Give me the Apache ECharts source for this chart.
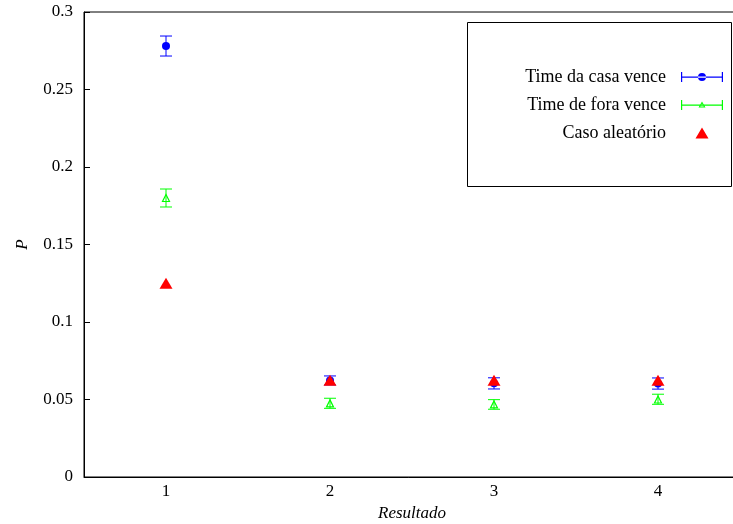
<!DOCTYPE html>
<html>
<head>
<meta charset="utf-8">
<script src="https://cdn.jsdelivr.net/npm/echarts@6/dist/echarts.min.js"></script>
<style>html,body{margin:0;padding:0;background:#fff}#c{width:733px;height:524px}</style>
</head>
<body>
<div id="c"></div>
<script>
var categories = ['1', '2', '3', '4'];
var homeWin = [0.278, 0.0623, 0.0605, 0.0603];
var homeLow = [0.2716, 0.0594, 0.0568, 0.0567];
var homeHigh = [0.2845, 0.0652, 0.0640, 0.0639];
var awayWin = [0.180, 0.0475, 0.0468, 0.0500];
var awayLow = [0.1742, 0.0443, 0.0437, 0.0469];
var awayHigh = [0.1858, 0.0508, 0.0499, 0.0534];
var randomCase = [0.125, 0.0625, 0.0625, 0.0625];
var names = ['Time da casa vence', 'Time de fora vence', 'Caso aleatório'];

var FONT = 'Liberation Serif';
var chart = echarts.init(document.getElementById('c'), null, {renderer: 'canvas'});

function errData(low, high) {
  return categories.map(function (c, i) { return [i, low[i], high[i]]; });
}
function errRender(params, api) {
  var x = api.value(0);
  var lo = api.coord([x, api.value(1)]);
  var hi = api.coord([x, api.value(2)]);
  var w = 6;
  var st = {stroke: api.visual('color'), lineWidth: 1, fill: null};
  return {
    type: 'group',
    children: [
      {type: 'line', shape: {x1: lo[0], y1: lo[1], x2: hi[0], y2: hi[1]}, style: st},
      {type: 'line', shape: {x1: lo[0] - w, y1: lo[1], x2: lo[0] + w, y2: lo[1]}, style: st},
      {type: 'line', shape: {x1: hi[0] - w, y1: hi[1], x2: hi[0] + w, y2: hi[1]}, style: st}
    ]
  };
}

// icons drawn in a 42x12 box; tiny corner marks fix the bounding box
var corners = ' M0,0h0.01v0.01h-0.01z M41.99,11.99h0.01v0.01h-0.01z';
var blueIcon = 'path://M0,5.5h42v1.2h-42z M0,1h1.2v10h-1.2z M40.8,1h1.2v10h-1.2z M17,6a4,4 0 1,0 8,0a4,4 0 1,0 -8,0z' + corners;
var greenIcon = 'path://M0,5.5h42v1.2h-42z M0,1h1.2v10h-1.2z M40.8,1h1.2v10h-1.2z M17.5,8.5l3.5,-6l3.5,6z M19.2,7.6l3.6,0l-1.8,-3.1z' + corners;
var redIcon = 'path://M14.5,11.5l6.5,-11l6.5,11z' + corners;

var option = {
  animation: false,
  backgroundColor: '#fff',
  grid: {left: 84, top: 12, right: -7, bottom: 47, show: true, borderColor: '#000', borderWidth: 1,
    backgroundColor: 'transparent', outerBoundsMode: 'none', containLabel: false},
  xAxis: {
    type: 'category',
    data: categories,
    boundaryGap: true,
    name: 'Resultado',
    nameLocation: 'middle',
    nameGap: 28,
    nameTextStyle: {fontFamily: FONT, fontStyle: 'italic', fontSize: 17, color: '#000'},
    axisLine: {lineStyle: {color: '#000', width: 1}},
    axisTick: {inside: true, alignWithLabel: true, length: 6, lineStyle: {color: '#000'}},
    axisLabel: {fontFamily: FONT, fontSize: 17, color: '#000', margin: 6},
    splitLine: {show: false}
  },
  yAxis: {
    type: 'value',
    min: 0, max: 0.3, interval: 0.05,
    name: 'P',
    nameLocation: 'middle',
    nameGap: 53,
    nameTextStyle: {fontFamily: FONT, fontStyle: 'italic', fontSize: 17, color: '#000'},
    axisLine: {show: true, lineStyle: {color: '#000', width: 1}},
    axisTick: {show: true, inside: true, length: 6, lineStyle: {color: '#000'}},
    axisLabel: {fontFamily: FONT, fontSize: 17, color: '#000', margin: 11,
      formatter: function (v) { return String(+v.toFixed(2)); }},
    splitLine: {show: false}
  },
  legend: {
    orient: 'vertical',
    right: 10,
    top: 68,
    align: 'right',
    itemGap: 10,
    itemWidth: 42,
    itemHeight: 12,
    padding: 0,
    textStyle: {fontFamily: FONT, fontSize: 18, color: '#000'},
    formatter: function (n) { return '{a|' + n + '}'; },
    data: [
      {name: names[0], icon: blueIcon, itemStyle: {color: '#0000ff', opacity: 1}},
      {name: names[1], icon: greenIcon, itemStyle: {color: '#00ff00', opacity: 1}},
      {name: names[2], icon: redIcon, itemStyle: {color: '#ff0000', opacity: 1}}
    ]
  },
  graphic: [{
    type: 'rect', left: 467, top: 22, shape: {width: 264, height: 164},
    style: {fill: '#fff', stroke: '#000', lineWidth: 1}, z: -1
  }],
  series: [
    {type: 'custom', name: names[0], renderItem: errRender, data: errData(homeLow, homeHigh),
      itemStyle: {color: '#0000ff'}, z: 3},
    {type: 'scatter', name: names[0], data: homeWin, symbol: 'circle', symbolSize: 8,
      itemStyle: {color: '#0000ff', opacity: 1}, z: 3},
    {type: 'custom', name: names[1], renderItem: errRender, data: errData(awayLow, awayHigh),
      itemStyle: {color: '#00ff00'}, z: 3},
    {type: 'scatter', name: names[1], data: awayWin, symbol: 'triangle', symbolSize: 7,
      itemStyle: {color: 'rgba(255,255,255,0)', borderColor: '#00ff00', borderWidth: 1.2, opacity: 1}, z: 3},
    {type: 'scatter', name: names[2], data: randomCase, symbol: 'triangle', symbolSize: [13, 11],
      itemStyle: {color: '#ff0000', opacity: 1}, z: 4}
  ]
};
option.legend.textStyle.rich = {a: {fontFamily: FONT, fontSize: 18, color: '#000', width: 160, align: 'right', padding: [0, 10, 0, 0]}};
chart.setOption(option);
</script>
</body>
</html>
